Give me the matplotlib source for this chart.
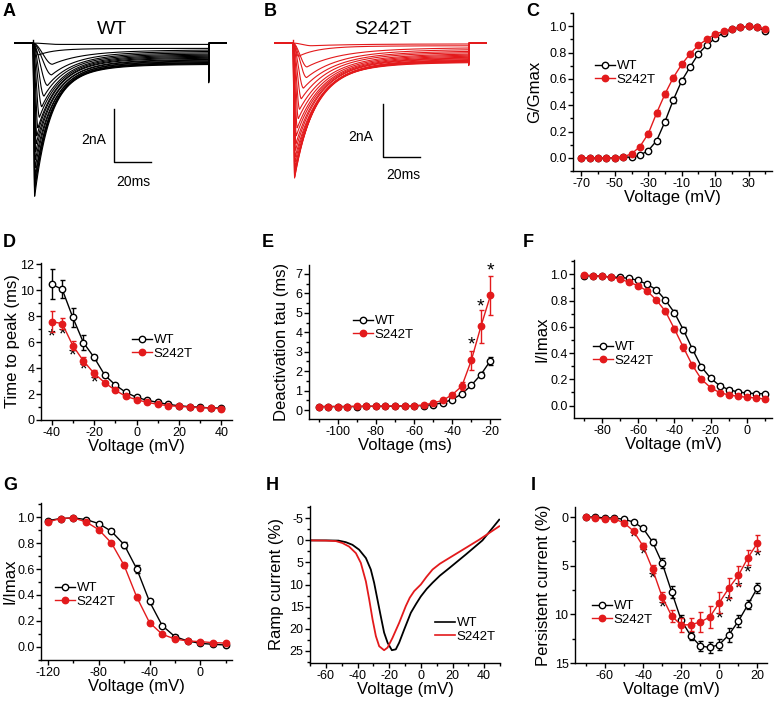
import numpy as np
import matplotlib
matplotlib.use("Agg")
import matplotlib.pyplot as plt
from matplotlib.lines import Line2D
from matplotlib.ticker import MultipleLocator, FixedLocator, FormatStrFormatter

plt.rcParams['font.family'] = ['Liberation Sans', 'DejaVu Sans']
plt.rcParams['axes.linewidth'] = 1.0
plt.rcParams['axes.unicode_minus'] = False

RED = '#e31a1c'
W, H = 777, 705

# ---------------- data ----------------
# A/B: current traces, one per test pulse (-50..+40 mV)
trace_mv = [-50, -45, -40, -35, -30, -25, -20, -15, -10, -5, 0, 5, 10, 15, 20, 25, 30, 35, 40]
wt_peak = [0.05, 0.45, 0.8, 1.2, 1.6, 2.0, 2.4, 2.8, 3.2, 3.5, 3.8, 4.1, 4.4, 4.7, 5.0, 5.2, 5.4, 5.6, 5.8]
wt_late = [0.05, 0.2, 0.25, 0.3, 0.35, 0.4, 0.44, 0.48, 0.52, 0.56, 0.6, 0.63, 0.66, 0.69, 0.72, 0.74, 0.76, 0.78, 0.8]
wt_ttp = [14, 3.0, 10.5, 10.1, 7.9, 6.0, 4.8, 3.5, 2.7, 2.1, 1.75, 1.5, 1.35, 1.2, 1.1, 1.03, 0.98, 0.93, 0.92]
wt_tau = [20, 8, 16, 14, 13, 12, 11.5, 11, 10.5, 10, 10, 9.5, 9.5, 9, 9, 8.5, 8.5, 8, 8]
mu_peak = [0.1, 0.5, 0.9, 1.3, 1.7, 2.1, 2.5, 2.85, 3.2, 3.5, 3.8, 4.05, 4.3, 4.5, 4.7, 4.85, 4.95, 5.05, 5.1]
mu_late = [0.03, 0.1, 0.16, 0.22, 0.28, 0.33, 0.38, 0.42, 0.46, 0.5, 0.53, 0.56, 0.59, 0.62, 0.64, 0.66, 0.68, 0.7, 0.72]
mu_ttp = [10, 3.0, 7.6, 7.4, 5.7, 4.55, 3.6, 2.9, 2.3, 1.8, 1.57, 1.36, 1.2, 1.1, 1.05, 1.0, 0.95, 0.93, 0.87]
mu_tau = [22, 10, 18, 17, 16, 15, 14.5, 14, 13.5, 13, 12.5, 12, 12, 11.5, 11, 11, 10.5, 10, 10]
pulse_end = 95.0
wt_tail = 1.5
mu_tail = 0.85

# C: G/Gmax
c_v = list(range(-70, 45, 5))
c_wt = [0, 0, 0, 0, 0, 0.005, 0.005, 0.02, 0.055, 0.13, 0.275, 0.44, 0.585, 0.69, 0.79,
        0.857, 0.908, 0.95, 0.975, 0.99, 1.0, 0.99, 0.967]
c_wt_err = [0, 0, 0, 0, 0, 0.003, 0.004, 0.006, 0.01, 0.015, 0.02, 0.022, 0.02, 0.015, 0.012,
            0.01, 0.01, 0.008, 0.006, 0.005, 0.004, 0.005, 0.008]
c_mu = [0, 0, 0, 0, 0, 0.008, 0.03, 0.085, 0.183, 0.34, 0.485, 0.61, 0.71, 0.79, 0.855,
        0.9, 0.94, 0.96, 0.98, 0.99, 1.0, 0.995, 0.977]
c_mu_err = [0, 0, 0, 0, 0, 0.004, 0.008, 0.012, 0.02, 0.025, 0.025, 0.022, 0.02, 0.018, 0.015,
            0.012, 0.01, 0.008, 0.006, 0.005, 0.004, 0.004, 0.006]

# D: time to peak
d_v = list(range(-40, 45, 5))
d_wt = [10.46, 10.07, 7.9, 5.96, 4.83, 3.47, 2.7, 2.13, 1.75, 1.52, 1.36, 1.2, 1.1, 1.03, 0.98, 0.93, 0.92]
d_wt_err = [1.15, 0.7, 0.75, 0.6, 0.2, 0.12, 0.1, 0.08, 0.08, 0.06, 0.05, 0.05, 0.04, 0.04, 0.04, 0.04, 0.04]
d_mu = [7.58, 7.43, 5.73, 4.55, 3.6, 2.88, 2.29, 1.82, 1.57, 1.36, 1.21, 1.1, 1.05, 1.0, 0.95, 0.93, 0.87]
d_mu_err = [0.8, 0.45, 0.35, 0.3, 0.25, 0.12, 0.1, 0.1, 0.08, 0.06, 0.05, 0.05, 0.04, 0.04, 0.04, 0.04, 0.04]
d_star_v = [-40, -35, -30, -25, -20]
d_star_y = [6.4, 6.55, 4.96, 3.85, 2.85]

# E: deactivation tau
e_v = list(range(-110, -15, 5))
e_wt = [0.19, 0.19, 0.19, 0.19, 0.19, 0.2, 0.2, 0.2, 0.21, 0.22, 0.23, 0.24, 0.29, 0.38, 0.55, 0.84, 1.28, 1.83, 2.54]
e_wt_err = [0.01] * 12 + [0.02, 0.03, 0.05, 0.06, 0.08, 0.15, 0.2]
e_mu = [0.19, 0.19, 0.19, 0.19, 0.2, 0.2, 0.21, 0.21, 0.22, 0.23, 0.24, 0.26, 0.38, 0.5, 0.8, 1.23, 2.56, 4.3, 5.89]
e_mu_err = [0.01] * 12 + [0.03, 0.05, 0.08, 0.2, 0.5, 0.85, 1.0]
e_star_v = [-30, -25, -20]
e_star_y = [3.33, 5.28, 7.12]

# F: steady-state inactivation
f_v = list(range(-90, 15, 5))
f_wt = [0.99, 0.99, 0.987, 0.98, 0.977, 0.97, 0.954, 0.924, 0.884, 0.805, 0.709, 0.577, 0.43,
        0.294, 0.21, 0.152, 0.122, 0.104, 0.096, 0.091, 0.091]
f_wt_err = [0.005, 0.005, 0.006, 0.008, 0.008, 0.01, 0.01, 0.01, 0.012, 0.015, 0.018, 0.02, 0.018,
            0.015, 0.012, 0.01, 0.01, 0.008, 0.008, 0.008, 0.008]
f_mu = [0.997, 0.99, 0.987, 0.977, 0.965, 0.94, 0.914, 0.873, 0.805, 0.72, 0.585, 0.443, 0.306,
        0.2, 0.137, 0.099, 0.081, 0.071, 0.063, 0.058, 0.05]
f_mu_err = [0.005, 0.006, 0.008, 0.01, 0.012, 0.012, 0.015, 0.015, 0.018, 0.02, 0.025, 0.025, 0.022,
            0.018, 0.012, 0.01, 0.01, 0.008, 0.008, 0.008, 0.008]

# G: slow inactivation
g_v = list(range(-120, 30, 10))
g_wt = [0.974, 0.99, 0.995, 0.982, 0.951, 0.891, 0.788, 0.6, 0.349, 0.163, 0.078, 0.044, 0.026, 0.018, 0.013]
g_wt_err = [0.008, 0.006, 0.005, 0.008, 0.01, 0.015, 0.022, 0.028, 0.022, 0.012, 0.01, 0.008, 0.008, 0.006, 0.006]
g_mu = [0.964, 0.99, 0.995, 0.964, 0.904, 0.801, 0.628, 0.382, 0.186, 0.096, 0.059, 0.044, 0.039, 0.031, 0.028]
g_mu_err = [0.008, 0.006, 0.005, 0.01, 0.012, 0.018, 0.022, 0.02, 0.015, 0.01, 0.008, 0.008, 0.008, 0.006, 0.006]

# H: ramp current
h_wt_v = [-70, -60, -52, -47.4, -43.2, -39, -34.7, -31.6, -29.5, -27.4, -25.3, -23.2, -21, -18.3,
          -15.8, -13.7, -10.5, -6.3, -3, 0, 3.7, 7.4, 12, 17.9, 28.4, 38.9, 49.5]
h_wt = [0, 0, 0.05, 0.4, 1.0, 2.1, 4.0, 6.6, 9.6, 13.4, 17.2, 20.9, 23.2, 24.9,
        24.7, 23.2, 20.2, 16.4, 14.4, 12.7, 11.0, 9.6, 8.0, 6.3, 3.2, 0, -4.7]
h_mu_v = [-70, -60, -53.7, -49.5, -45.3, -41, -37.9, -34.7, -32.6, -30.5, -28.4, -26.3, -23.2, -21,
          -17.9, -13.7, -9.5, -7, -4.2, 0, 3.5, 7.4, 12, 17.9, 28.4, 36.8, 49.5]
h_mu = [0, 0.05, 0.15, 0.6, 1.4, 2.9, 5.1, 9.3, 13.4, 17.9, 21.7, 24.0, 24.9, 24.3,
        22.1, 18.7, 14.9, 13.0, 11.5, 10.0, 8.3, 6.6, 5.3, 4.0, 1.7, -0.15, -3.2]

# I: persistent current
i_v = list(range(-70, 25, 5))
i_wt = [0, 0, 0.1, 0.1, 0.24, 0.51, 1.16, 2.57, 4.73, 7.7, 10.6, 12.2, 13.25, 13.4, 13.1, 12.1, 10.7, 9.0, 7.26]
i_wt_err = [0.05, 0.05, 0.05, 0.06, 0.08, 0.1, 0.15, 0.3, 0.5, 0.6, 0.5, 0.4, 0.5, 0.6, 0.6, 0.7, 0.6, 0.5, 0.5]
i_mu = [0, 0.1, 0.2, 0.2, 0.6, 1.44, 3.0, 5.38, 8.2, 10.17, 11.1, 11.06, 10.8, 10.27, 8.8, 7.3, 6.0, 4.18, 2.67]
i_mu_err = [0.05, 0.05, 0.06, 0.06, 0.1, 0.15, 0.3, 0.4, 0.5, 0.6, 0.7, 0.7, 1.0, 1.1, 1.1, 1.0, 1.0, 0.8, 0.8]
i_star_v = [-45, -40, -35, -30, 0, 5, 10, 15, 20]
i_star_y = [2.2, 3.9, 6.4, 9.35, 10.5, 8.8, 7.4, 5.7, 4.1]


# ---------------- helpers ----------------
def px_axes(fig, left, right, top, bottom):
    ax = fig.add_axes([left / W, 1 - bottom / H, (right - left) / W, (bottom - top) / H])
    ax._px = (left, right, top, bottom)
    return ax


def style(ax, ylab, ylab_x, xlab='Voltage (mV)'):
    for s in ['top', 'right']:
        ax.spines[s].set_visible(False)
    ax.tick_params(which='major', direction='out', length=3.5, width=1, labelsize=9, pad=1.2)
    ax.tick_params(which='minor', direction='out', length=2, width=1)
    ax.set_xlabel(xlab, fontsize=12, labelpad=0)
    ax.set_ylabel(ylab, fontsize=12)
    left, right, top, bottom = ax._px
    # label centre; the anchor is the label's right edge
    ax.yaxis.set_label_coords((ylab_x + 9 - left) / (right - left), 0.5)


def draw_pair(ax, x, ywt, ewt, ymu, emu):
    ax.errorbar(x, ywt, yerr=ewt, color='black', lw=1.0, elinewidth=1.0, capsize=1.8,
                marker='o', ms=4.6, mfc='white', mec='black', mew=1.0, zorder=3)
    ax.errorbar(x, ymu, yerr=emu, color=RED, lw=1.0, elinewidth=1.0, capsize=1.8,
                marker='o', ms=4.6, mfc=RED, mec=RED, mew=1.0, zorder=4)


def add_legend(ax, left, top, markers=True):
    if markers:
        h = [Line2D([], [], color='black', marker='o', ms=4.6, mfc='white', mec='black', lw=1.0),
             Line2D([], [], color=RED, marker='o', ms=4.6, mfc=RED, mec=RED, lw=1.0)]
    else:
        h = [Line2D([], [], color='black', lw=1.2), Line2D([], [], color=RED, lw=1.2)]
    ax.legend(h, ['WT', 'S242T'], loc='upper left', bbox_to_anchor=(left / W, 1 - top / H),
              bbox_transform=ax.figure.transFigure, frameon=False, fontsize=9.5,
              handlelength=1.5, handletextpad=0.15, labelspacing=0.1, borderpad=0, borderaxespad=0)


def stars(ax, xs, ys):
    for x, y in zip(xs, ys):
        ax.text(x, y, '*', ha='center', va='center', fontsize=14, color='black')


def draw_traces(ax, peaks, lates, ttps, taus, tail, color):
    t = np.linspace(0, pulse_end, 1500)
    for pk, lt, tp, tau in zip(peaks, lates, ttps, taus):
        rise = np.clip(t / tp, 0, 1)
        rise = rise ** 2 * (3 - 2 * rise)
        dt = np.clip(t - tp, 0, None)
        decay = (pk - lt) * (0.8 * np.exp(-dt / tau) + 0.2 * np.exp(-dt / (2.5 * tau))) + lt
        cur = -rise * decay
        tt = np.concatenate([[-9.7, 0], t, [pulse_end, pulse_end + 0.3, 104.5]])
        yy = np.concatenate([[0, 0], cur, [-tail * lt / max(lates), 0, 0]])
        ax.plot(tt, yy, color=color, lw=0.8)
    ax.plot([0, 0], [0.12, -0.1], color=color, lw=1.0)
    ax.set_xlim(-12.4, 111.9)
    ax.set_ylim(-6.3, 1.06)
    ax.axis('off')


def scale_bar(ax, x0, y0, lab_nA, lab_ms):
    ax.plot([x0, x0, x0 + 20], [y0, y0 - 2, y0 - 2], color='black', lw=1.0)
    ax.text(lab_nA[0], lab_nA[1], '2nA', ha='right', va='center', fontsize=10)
    ax.text(lab_ms[0], lab_ms[1], '20ms', ha='center', va='center', fontsize=10)


fig = plt.figure(figsize=(W / 100, H / 100), dpi=100)

# ---------------- A ----------------
axA = px_axes(fig, 10, 240, 15, 210)
draw_traces(axA, wt_peak, wt_late, wt_ttp, wt_tau, wt_tail, 'black')
scale_bar(axA, 43.8, -2.49, (39.5, -3.66), (54, -5.25))
axA.text(43, 0.5, 'WT', ha='center', va='center', fontsize=14)

# ---------------- B ----------------
axB = px_axes(fig, 270, 500, 15, 210)
draw_traces(axB, mu_peak, mu_late, mu_ttp, mu_tau, mu_tail, RED)
scale_bar(axB, 48.6, -2.3, (43.5, -3.55), (59.5, -4.98))
axB.text(48.6, 0.5, 'S242T', ha='center', va='center', fontsize=14)

# ---------------- C ----------------
axC = px_axes(fig, 573, 772, 13, 171)
style(axC, 'G/Gmax', 533)
draw_pair(axC, c_v, c_wt, c_wt_err, c_mu, c_mu_err)
axC.set_xlim(-75, 44)
axC.set_ylim(-0.1, 1.1)
axC.xaxis.set_major_locator(FixedLocator([-70, -50, -30, -10, 10, 30]))
axC.xaxis.set_minor_locator(FixedLocator([-60, -40, -20, 0, 20, 40]))
axC.yaxis.set_major_locator(MultipleLocator(0.2))
axC.yaxis.set_minor_locator(MultipleLocator(0.1))
axC.yaxis.set_major_formatter(FormatStrFormatter('%.1f'))
add_legend(axC, 595, 60)

# ---------------- D ----------------
axD = px_axes(fig, 41, 232, 263, 420)
style(axD, 'Time to peak (ms)', 11)
draw_pair(axD, d_v, d_wt, d_wt_err, d_mu, d_mu_err)
axD.set_xlim(-45, 45)
axD.set_ylim(0, 12.1)
axD.xaxis.set_major_locator(MultipleLocator(20))
axD.xaxis.set_minor_locator(MultipleLocator(10))
axD.yaxis.set_major_locator(MultipleLocator(2))
axD.yaxis.set_minor_locator(MultipleLocator(1))
stars(axD, d_star_v, d_star_y)
add_legend(axD, 132, 334)

# ---------------- E ----------------
axE = px_axes(fig, 309, 500, 265, 419)
style(axE, 'Deactivation tau (ms)', 280, xlab='Voltage (ms)')
draw_pair(axE, e_v, e_wt, e_wt_err, e_mu, e_mu_err)
axE.set_xlim(-115, -15)
axE.set_ylim(-0.45, 7.45)
axE.xaxis.set_major_locator(MultipleLocator(20))
axE.xaxis.set_minor_locator(MultipleLocator(10))
axE.yaxis.set_major_locator(MultipleLocator(1))
axE.yaxis.set_minor_locator(MultipleLocator(0.5))
stars(axE, e_star_v, e_star_y)
add_legend(axE, 353, 315)

# ---------------- F ----------------
axF = px_axes(fig, 574, 772, 260, 418)
style(axF, 'I/Imax', 540)
draw_pair(axF, f_v, f_wt, f_wt_err, f_mu, f_mu_err)
axF.set_xlim(-95.5, 14)
axF.set_ylim(-0.095, 1.11)
axF.xaxis.set_major_locator(MultipleLocator(20))
axF.xaxis.set_minor_locator(MultipleLocator(10))
axF.yaxis.set_major_locator(MultipleLocator(0.2))
axF.yaxis.set_minor_locator(MultipleLocator(0.1))
axF.yaxis.set_major_formatter(FormatStrFormatter('%.1f'))
add_legend(axF, 593, 341)

# ---------------- G ----------------
axG = px_axes(fig, 41, 232, 503, 660)
style(axG, 'I/Imax', 9)
draw_pair(axG, g_v, g_wt, g_wt_err, g_mu, g_mu_err)
axG.set_xlim(-125.5, 25)
axG.set_ylim(-0.103, 1.11)
axG.xaxis.set_major_locator(MultipleLocator(40))
axG.xaxis.set_minor_locator(MultipleLocator(20))
axG.yaxis.set_major_locator(MultipleLocator(0.2))
axG.yaxis.set_minor_locator(MultipleLocator(0.1))
axG.yaxis.set_major_formatter(FormatStrFormatter('%.1f'))
add_legend(axG, 55, 582)

# ---------------- H ----------------
axH = px_axes(fig, 310, 500, 506, 663)
style(axH, 'Ramp current (%)', 275)
axH.plot(h_wt_v, h_wt, color='black', lw=1.3)
axH.plot(h_mu_v, h_mu, color=RED, lw=1.3)
axH.set_xlim(-70, 50)
axH.set_ylim(27.8, -7.8)
axH.xaxis.set_major_locator(MultipleLocator(20))
axH.xaxis.set_minor_locator(MultipleLocator(10))
axH.yaxis.set_major_locator(MultipleLocator(5))
axH.yaxis.set_minor_locator(MultipleLocator(2.5))
add_legend(axH, 435, 617, markers=False)

# ---------------- I ----------------
axI = px_axes(fig, 575, 767, 507, 663)
style(axI, 'Persistent current (%)', 542)
draw_pair(axI, i_v, i_wt, i_wt_err, i_mu, i_mu_err)
axI.set_xlim(-75.7, 25)
axI.set_ylim(15, -1.03)
axI.xaxis.set_major_locator(MultipleLocator(20))
axI.xaxis.set_minor_locator(MultipleLocator(10))
axI.yaxis.set_major_locator(MultipleLocator(5))
axI.yaxis.set_minor_locator(MultipleLocator(2.5))
stars(axI, i_star_v, i_star_y)
add_legend(axI, 592, 600)

# panel letters
for letter, x, y in [('A', 9, 12), ('B', 270, 12), ('C', 533, 12), ('D', 9, 242), ('E', 268, 242),
                     ('F', 528, 242), ('G', 10, 485), ('H', 272, 485), ('I', 533, 485)]:
    fig.text(x / W, 1 - y / H, letter, fontsize=13, fontweight='bold', ha='center', va='center')

fig.savefig('out.png', dpi=100)
